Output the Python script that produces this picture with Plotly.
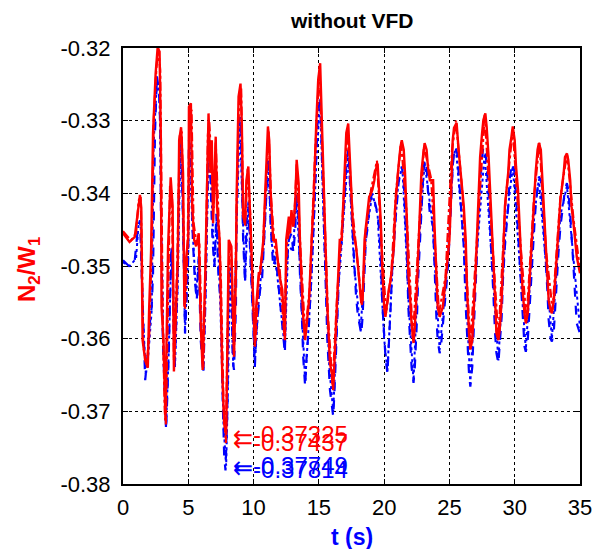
import plotly.graph_objects as go

# ---- data ----
t_red1 = [0, 0.5, 0.9, 1.15, 1.3, 1.4, 1.5, 1.7, 1.9, 2.0, 2.15, 2.3, 2.5, 2.65, 2.8, 2.9, 2.95, 3.1, 3.25, 3.3,
          3.45, 3.65, 3.8, 3.9, 4.1, 4.2, 4.3, 4.45, 4.6, 4.7, 4.85, 5.0, 5.05, 5.2, 5.3, 5.45, 5.6, 5.8, 5.95, 6.1,
          6.3, 6.45, 6.55, 6.7, 6.8, 6.9, 7.1, 7.2, 7.4, 7.6, 7.75, 7.9, 8.0, 8.1, 8.3, 8.4, 8.5, 8.65, 8.7, 8.85,
          9.0, 9.1, 9.2, 9.35, 9.45, 9.6, 9.7, 9.85, 10.0, 10.1, 10.2, 10.4, 10.5, 10.65, 10.75, 10.9, 11.0, 11.1, 11.2, 11.3,
          11.5, 11.7, 11.95, 12.2, 12.4, 12.5, 12.7, 12.8, 12.9, 13.05, 13.2, 13.3, 13.45, 13.55, 13.7, 13.8, 13.95, 14.05, 14.25, 14.45,
          14.6, 14.8, 14.95, 15.1, 15.2, 15.35, 15.5, 15.65, 15.85, 16.0, 16.1, 16.2, 16.35, 16.5, 16.6, 16.75, 16.85, 17.0, 17.1, 17.25,
          17.35, 17.5, 17.6, 17.75, 17.85, 18.0, 18.1, 18.25, 18.35, 18.5, 18.6, 18.75, 18.85, 19.0, 19.1, 19.25, 19.35, 19.5, 19.6, 19.75,
          19.85, 20.0, 20.1, 20.25, 20.35, 20.5, 20.6, 20.75, 20.85, 21.0, 21.1, 21.25, 21.35, 21.5, 21.6, 21.75, 21.85, 22.0, 22.1, 22.25,
          22.35, 22.5, 22.6, 22.75, 22.85, 23.0, 23.1, 23.25, 23.35, 23.5, 23.75, 23.85, 24.0, 24.1, 24.25, 24.35, 24.5, 24.75, 24.85, 25.0,
          25.1, 25.25, 25.35, 25.55, 25.7, 25.85, 26.1, 26.25, 26.35, 26.5, 26.6, 26.75, 26.85, 27.0, 27.1, 27.25, 27.35, 27.5, 27.6, 27.75,
          27.85, 28.0, 28.1, 28.25, 28.35, 28.5, 28.6, 28.75, 28.85, 29.0, 29.1, 29.25, 29.5, 29.6, 29.75, 29.85, 30.0, 30.1, 30.25, 30.35,
          30.5, 30.6, 30.75, 30.85, 31.0, 31.1, 31.25, 31.35, 31.5, 31.6, 31.75, 31.85, 32.0, 32.1, 32.25, 32.35, 32.5, 32.6, 32.75, 32.85,
          33.0, 33.1, 33.25, 33.35, 33.5, 33.75, 33.85, 34.0, 34.1, 34.25, 34.35, 34.5, 34.6, 34.75, 35.0]
v_red1 = [-0.3455, -0.3467, -0.3460, -0.3418, -0.3402, -0.3420, -0.3602, -0.3630, -0.3640, -0.3560, -0.3480, -0.3317, -0.3235, -0.3200, -0.3205, -0.3327, -0.3556, -0.3602, -0.3712, -0.3645,
          -0.3474, -0.3378, -0.3418, -0.3645, -0.3520, -0.3490, -0.3327, -0.3309, -0.3372, -0.3556, -0.3487, -0.3460, -0.3281, -0.3276, -0.3418, -0.3464, -0.3473, -0.3455, -0.3579, -0.3643,
          -0.3510, -0.3350, -0.3290, -0.3372, -0.3327, -0.3441, -0.3322, -0.3418, -0.3464, -0.3648, -0.3717, -0.37325, -0.3565, -0.3464, -0.3473, -0.3579, -0.3625, -0.3510, -0.3405, -0.3267,
          -0.3249, -0.3304, -0.3432, -0.3441, -0.3382, -0.3363, -0.3418, -0.3473, -0.3556, -0.3611, -0.3556, -0.3510, -0.3510, -0.3487, -0.3464, -0.3395, -0.3350, -0.3308, -0.3327, -0.3395,
          -0.3464, -0.3464, -0.3510, -0.3533, -0.3602, -0.3464, -0.3432, -0.3455, -0.3423, -0.3446, -0.3409, -0.3354, -0.3386, -0.3464, -0.3533, -0.3570, -0.3602, -0.3583, -0.3547, -0.3464,
          -0.3409, -0.3304, -0.3244, -0.3221, -0.3281, -0.3395, -0.3487, -0.3556, -0.3634, -0.3648, -0.3671, -0.3625, -0.3556, -0.3510, -0.3464, -0.3464, -0.3418, -0.3350, -0.3317, -0.3304,
          -0.3340, -0.3395, -0.3441, -0.3464, -0.3473, -0.3501, -0.3519, -0.3551, -0.3547, -0.3464, -0.3446, -0.3418, -0.3405, -0.3400, -0.3395, -0.3382, -0.3368, -0.3359, -0.3386, -0.3441,
          -0.3501, -0.3556, -0.3570, -0.3547, -0.3533, -0.3519, -0.3501, -0.3473, -0.3418, -0.3382, -0.3363, -0.3336, -0.3327, -0.3340, -0.3372, -0.3441, -0.3510, -0.3547, -0.3579, -0.3606,
          -0.3583, -0.3533, -0.3487, -0.3418, -0.3372, -0.3345, -0.3331, -0.3340, -0.3363, -0.3382, -0.3382, -0.3441, -0.3510, -0.3556, -0.3570, -0.3565, -0.3556, -0.3510, -0.3487, -0.3464,
          -0.3418, -0.3327, -0.3310, -0.3303, -0.3340, -0.3372, -0.3418, -0.3464, -0.3533, -0.3593, -0.3615, -0.3602, -0.3570, -0.3510, -0.3464, -0.3395, -0.3350, -0.3317, -0.3299, -0.3290,
          -0.3308, -0.3350, -0.3395, -0.3441, -0.3487, -0.3547, -0.3593, -0.3602, -0.3588, -0.3547, -0.3487, -0.3418, -0.3372, -0.3340, -0.3322, -0.3308, -0.3327, -0.3363, -0.3395, -0.3441,
          -0.3487, -0.3533, -0.3565, -0.3579, -0.3565, -0.3533, -0.3487, -0.3441, -0.3409, -0.3372, -0.3340, -0.3331, -0.3340, -0.3372, -0.3418, -0.3464, -0.3510, -0.3547, -0.3561, -0.3565,
          -0.3547, -0.3519, -0.3487, -0.3446, -0.3409, -0.3372, -0.3350, -0.3345, -0.3354, -0.3382, -0.3418, -0.3441, -0.3464, -0.3487, -0.3510]

t_red2 = [0, 0.6, 1.0, 1.2, 1.35, 1.45, 1.55, 1.8, 2.0, 2.2, 2.35, 2.55, 2.7, 2.85, 2.95, 3.05, 3.2, 3.28, 3.4, 3.6,
          3.75, 3.9, 4.15, 4.35, 4.5, 4.65, 4.75, 4.95, 5.1, 5.25, 5.4, 5.6, 5.85, 6.05, 6.15, 6.35, 6.5, 6.6, 6.75, 6.95,
          7.1, 7.3, 7.5, 7.7, 7.88, 8.0, 8.15, 8.3, 8.5, 8.7, 8.9, 9.05, 9.2, 9.35, 9.55, 9.75, 10.05, 10.15, 10.4, 10.7,
          11.0, 11.15, 11.35, 11.6, 12.0, 12.35, 12.55, 12.85, 13.1, 13.3, 13.6, 13.95, 14.3, 14.7, 15.05, 15.3, 15.7, 16.05, 16.4, 16.8,
          17.2, 17.55, 17.9, 18.3, 18.6, 19.0, 19.45, 19.8, 20.15, 20.55, 20.9, 21.3, 21.7, 22.2, 22.65, 23.05, 23.6, 24.2, 24.7, 25.2,
          25.5, 26.0, 26.6, 27.0, 27.7, 28.3, 28.75, 29.3, 29.85, 30.4, 30.9, 31.5, 31.9, 32.4, 32.9, 33.5, 34.0, 34.5, 35.0]
v_red2 = [-0.3452, -0.3465, -0.3455, -0.3410, -0.3405, -0.3480, -0.3610, -0.3635, -0.3600, -0.3470, -0.3300, -0.3230, -0.3200, -0.3230, -0.3400, -0.3580, -0.3700, -0.3718, -0.3600, -0.3390,
          -0.3400, -0.3630, -0.3500, -0.3320, -0.3315, -0.3450, -0.3560, -0.3470, -0.3290, -0.3285, -0.3440, -0.3465, -0.3470, -0.3610, -0.3640, -0.3480, -0.3320, -0.3300, -0.3360, -0.3420,
          -0.3330, -0.3440, -0.3520, -0.3690, -0.37437, -0.3600, -0.3470, -0.3490, -0.3620, -0.3420, -0.3265, -0.3255, -0.3420, -0.3445, -0.3365, -0.3430, -0.3590, -0.3605, -0.3515, -0.3480,
          -0.3360, -0.3315, -0.3410, -0.3470, -0.3505, -0.3595, -0.3470, -0.3440, -0.3440, -0.3360, -0.3480, -0.3595, -0.3530, -0.3350, -0.3225, -0.3370, -0.3570, -0.3665, -0.3540, -0.3440,
          -0.3310, -0.3420, -0.3480, -0.3555, -0.3450, -0.3395, -0.3355, -0.3470, -0.3565, -0.3510, -0.3400, -0.3330, -0.3420, -0.3600, -0.3460, -0.3335, -0.3380, -0.3565, -0.3515, -0.3340,
          -0.3300, -0.3400, -0.3610, -0.3500, -0.3292, -0.3470, -0.3600, -0.3410, -0.3312, -0.3460, -0.3575, -0.3400, -0.3330, -0.3480, -0.3560, -0.3405, -0.3345, -0.3435, -0.3505]

t_blue1 = [0, 0.5, 0.9, 1.15, 1.3, 1.5, 1.7, 1.85, 2.05, 2.2, 2.3, 2.45, 2.6, 2.75, 2.85, 2.9, 3.05, 3.3, 3.4, 3.5,
           3.7, 3.8, 3.95, 4.15, 4.35, 4.45, 4.6, 4.75, 4.85, 5.0, 5.05, 5.2, 5.35, 5.5, 5.65, 5.8, 5.95, 6.15, 6.3, 6.45,
           6.55, 6.7, 6.85, 7.0, 7.15, 7.3, 7.5, 7.65, 7.75, 7.85, 8.0, 8.1, 8.3, 8.4, 8.5, 8.65, 8.7, 8.85, 9.0, 9.1,
           9.2, 9.35, 9.45, 9.6, 9.7, 9.85, 10.0, 10.1, 10.2, 10.4, 10.5, 10.65, 10.75, 10.9, 11.0, 11.1, 11.2, 11.3, 11.5, 11.7,
           11.95, 12.2, 12.4, 12.5, 12.7, 12.9, 13.05, 13.2, 13.3, 13.45, 13.55, 13.7, 13.8, 13.95, 14.05, 14.25, 14.45, 14.6, 14.8, 14.95,
           15.1, 15.2, 15.35, 15.5, 15.65, 15.85, 16.0, 16.1, 16.2, 16.35, 16.5, 16.6, 16.75, 16.85, 17.0, 17.1, 17.25, 17.35, 17.5, 17.6,
           17.75, 17.85, 18.0, 18.1, 18.25, 18.35, 18.5, 18.6, 18.75, 18.85, 19.0, 19.1, 19.25, 19.35, 19.5, 19.6, 19.75, 19.85, 20.0, 20.1,
           20.25, 20.35, 20.5, 20.6, 20.75, 20.85, 21.0, 21.1, 21.25, 21.35, 21.5, 21.6, 21.75, 21.85, 22.0, 22.1, 22.25, 22.35, 22.5, 22.6,
           22.75, 22.85, 23.0, 23.1, 23.25, 23.35, 23.5, 23.75, 23.85, 24.0, 24.1, 24.25, 24.35, 24.5, 24.75, 24.85, 25.0, 25.1, 25.25, 25.35,
           25.45, 25.6, 25.7, 25.85, 26.1, 26.25, 26.35, 26.5, 26.6, 26.75, 26.85, 27.0, 27.1, 27.25, 27.35, 27.5, 27.6, 27.75, 27.85, 28.0,
           28.1, 28.25, 28.35, 28.5, 28.6, 28.75, 28.85, 29.0, 29.1, 29.25, 29.5, 29.6, 29.75, 29.85, 30.0, 30.1, 30.25, 30.35, 30.5, 30.6,
           30.75, 30.85, 31.0, 31.1, 31.25, 31.35, 31.5, 31.6, 31.75, 31.85, 32.0, 32.1, 32.25, 32.35, 32.5, 32.6, 32.75, 32.85, 33.0, 33.1,
           33.25, 33.35, 33.5, 33.75, 33.85, 34.0, 34.1, 34.25, 34.35, 34.5, 34.6, 34.75, 35.0]
v_blue1 = [-0.3492, -0.3501, -0.3492, -0.3446, -0.3437, -0.3556, -0.3657, -0.3629, -0.3579, -0.3556, -0.3510, -0.3317, -0.3239, -0.3258, -0.3304, -0.3418, -0.3602, -0.3726, -0.3671, -0.3625,
           -0.3473, -0.3510, -0.3643, -0.3538, -0.3336, -0.3327, -0.3441, -0.3593, -0.3556, -0.3487, -0.3327, -0.3350, -0.3464, -0.3519, -0.3547, -0.3487, -0.3602, -0.3648, -0.3556, -0.3395,
           -0.3336, -0.3382, -0.3464, -0.3501, -0.3428, -0.3510, -0.3556, -0.3694, -0.3762, -0.37814, -0.3694, -0.3501, -0.3510, -0.3629, -0.3643, -0.3556, -0.3441, -0.3304, -0.3294, -0.3372,
           -0.3464, -0.3524, -0.3441, -0.3418, -0.3464, -0.3519, -0.3602, -0.3639, -0.3593, -0.3547, -0.3533, -0.3519, -0.3487, -0.3441, -0.3395, -0.3350, -0.3372, -0.3441, -0.3501, -0.3487,
           -0.3533, -0.3579, -0.3620, -0.3510, -0.3464, -0.3455, -0.3482, -0.3446, -0.3400, -0.3437, -0.3510, -0.3570, -0.3625, -0.3666, -0.3629, -0.3579, -0.3510, -0.3446, -0.3350, -0.3281,
           -0.3267, -0.3327, -0.3441, -0.3533, -0.3602, -0.3671, -0.3694, -0.3707, -0.3671, -0.3593, -0.3533, -0.3487, -0.3464, -0.3441, -0.3395, -0.3363, -0.3340, -0.3372, -0.3428, -0.3464,
           -0.3510, -0.3542, -0.3570, -0.3579, -0.3593, -0.3570, -0.3510, -0.3464, -0.3446, -0.3418, -0.3405, -0.3400, -0.3409, -0.3418, -0.3428, -0.3446, -0.3487, -0.3547, -0.3602, -0.3625,
           -0.3648, -0.3616, -0.3556, -0.3510, -0.3464, -0.3441, -0.3409, -0.3386, -0.3372, -0.3363, -0.3382, -0.3418, -0.3487, -0.3556, -0.3602, -0.3639, -0.3661, -0.3639, -0.3579, -0.3519,
           -0.3464, -0.3418, -0.3372, -0.3354, -0.3363, -0.3395, -0.3428, -0.3446, -0.3510, -0.3570, -0.3602, -0.3620, -0.3611, -0.3579, -0.3538, -0.3510, -0.3464, -0.3418, -0.3363, -0.3345,
           -0.3336, -0.3345, -0.3372, -0.3418, -0.3473, -0.3556, -0.3602, -0.3648, -0.3666, -0.3639, -0.3593, -0.3533, -0.3487, -0.3441, -0.3382, -0.3350, -0.3336, -0.3340, -0.3363, -0.3395,
           -0.3441, -0.3487, -0.3533, -0.3593, -0.3620, -0.3634, -0.3611, -0.3570, -0.3519, -0.3473, -0.3418, -0.3382, -0.3363, -0.3359, -0.3372, -0.3405, -0.3446, -0.3487, -0.3533, -0.3579,
           -0.3611, -0.3618, -0.3602, -0.3570, -0.3519, -0.3478, -0.3446, -0.3418, -0.3391, -0.3377, -0.3382, -0.3409, -0.3446, -0.3487, -0.3533, -0.3574, -0.3600, -0.3604, -0.3588, -0.3556,
           -0.3519, -0.3482, -0.3446, -0.3409, -0.3395, -0.3386, -0.3395, -0.3428, -0.3464, -0.3501, -0.3533, -0.3579, -0.3593]

t_blue2 = [0, 0.5, 1.0, 1.2, 1.35, 1.5, 1.75, 1.95, 2.2, 2.35, 2.6, 2.8, 2.95, 3.1, 3.3, 3.5, 3.7, 3.85, 3.98, 4.2,
           4.4, 4.55, 4.75, 5.0, 5.1, 5.3, 5.6, 5.8, 6.15, 6.35, 6.55, 6.75, 7.0, 7.2, 7.45, 7.7, 7.9, 8.05, 8.2, 8.45,
           8.7, 8.95, 9.15, 9.35, 9.6, 9.9, 10.1, 10.4, 10.8, 11.1, 11.4, 11.8, 12.4, 12.65, 13.0, 13.3, 13.75, 13.95, 14.4, 14.8,
           15.1, 15.4, 15.8, 16.1, 16.5, 16.9, 17.25, 17.7, 18.2, 18.6, 19.1, 19.5, 20.0, 20.25, 20.7, 21.1, 21.4, 21.9, 22.25, 22.7,
           23.1, 23.7, 24.25, 24.8, 25.3, 25.5, 26.1, 26.6, 27.1, 27.7, 28.3, 28.75, 29.3, 29.85, 30.4, 30.85, 31.5, 31.85, 32.4, 32.85,
           33.5, 34.0, 34.5, 35.0]
v_blue2 = [-0.3495, -0.3500, -0.3490, -0.3440, -0.3440, -0.3560, -0.3650, -0.3620, -0.3560, -0.3330, -0.3245, -0.3265, -0.3450, -0.3620, -0.3720, -0.3620, -0.3480, -0.3530, -0.3640, -0.3520,
           -0.3330, -0.3400, -0.3590, -0.3480, -0.3330, -0.3440, -0.3540, -0.3490, -0.3645, -0.3520, -0.3340, -0.3390, -0.3500, -0.3430, -0.3550, -0.3720, -0.37749, -0.3660, -0.3500, -0.3640,
           -0.3440, -0.3300, -0.3420, -0.3520, -0.3410, -0.3540, -0.3635, -0.3545, -0.3470, -0.3355, -0.3470, -0.3510, -0.3615, -0.3470, -0.3480, -0.3405, -0.3590, -0.3660, -0.3530, -0.3360,
           -0.3270, -0.3460, -0.3640, -0.3700, -0.3530, -0.3430, -0.3345, -0.3500, -0.3590, -0.3460, -0.3400, -0.3430, -0.3600, -0.3645, -0.3480, -0.3380, -0.3365, -0.3560, -0.3658, -0.3460,
           -0.3358, -0.3440, -0.3615, -0.3510, -0.3350, -0.3338, -0.3470, -0.3662, -0.3480, -0.3345, -0.3500, -0.3630, -0.3450, -0.3362, -0.3500, -0.3615, -0.3430, -0.3380, -0.3500, -0.3600,
           -0.3430, -0.3390, -0.3490, -0.3585]

min_labels = ["-0.37325", "-0.37437", "-0.37749", "-0.37814"]
min_values = [-0.37325, -0.37437, -0.37749, -0.37814]
min_times = [7.9, 7.88, 7.9, 7.85]
min_colors = ["#ff0000", "#ff0000", "#0000ff", "#0000ff"]

x_ticks = [0, 5, 10, 15, 20, 25, 30, 35]
y_ticks = [-0.38, -0.37, -0.36, -0.35, -0.34, -0.33, -0.32]

FONT = "Liberation Sans, Arial, Helvetica, sans-serif"

fig = go.Figure()
fig.add_trace(go.Scatter(x=t_blue2, y=v_blue2, mode="lines",
                         line=dict(color="#0000ff", width=2, dash="dot"), showlegend=False))
fig.add_trace(go.Scatter(x=t_blue1, y=v_blue1, mode="lines",
                         line=dict(color="#0000ff", width=2.2, dash="dash"), showlegend=False))
fig.add_trace(go.Scatter(x=t_red2, y=v_red2, mode="lines",
                         line=dict(color="#ff0000", width=2.2, dash="dashdot"), showlegend=False))
fig.add_trace(go.Scatter(x=t_red1, y=v_red1, mode="lines",
                         line=dict(color="#ff0000", width=2.4), showlegend=False))

for lab, val, tt, col in zip(min_labels, min_values, min_times, min_colors):
    fig.add_annotation(x=tt, y=val,
                       text='<span style="font-family:DejaVu Sans">\u2190</span>' + lab,
                       showarrow=False, xanchor="left", yanchor="middle", xshift=5,
                       font=dict(family=FONT, size=24, color=col))

axis_common = dict(showline=True, linecolor="black", linewidth=2, mirror="ticks",
                   ticks="inside", ticklen=5, tickcolor="black", tickwidth=1,
                   showgrid=True, gridcolor="black", griddash="dot", gridwidth=1,
                   zeroline=False, tickfont=dict(family=FONT, size=22, color="black"))

fig.update_xaxes(range=[0, 35], tickvals=x_ticks, ticktext=[str(v) for v in x_ticks],
                 ticklabelstandoff=3, **axis_common)
fig.update_yaxes(range=[-0.38, -0.32], tickvals=y_ticks,
                 ticktext=["%.2f" % v for v in y_ticks], ticklabelstandoff=6, **axis_common)

fig.add_annotation(xref="paper", yref="paper", x=0.5, y=1.0, yshift=28, yanchor="middle",
                   text="<b>without VFD</b>", showarrow=False,
                   font=dict(family=FONT, size=21, color="black"))
fig.add_annotation(xref="paper", yref="paper", x=0.5, y=0, yshift=-53, yanchor="middle",
                   text="<b>t (s)</b>", showarrow=False,
                   font=dict(family=FONT, size=23, color="#0000ff"))
fig.add_annotation(xref="paper", yref="paper", x=0, y=0.5, xshift=-95, yshift=-4,
                   xanchor="center", yanchor="middle",
                   text="<b>N<sub>2</sub>/W<sub>1</sub></b>", showarrow=False, textangle=-90,
                   font=dict(family=FONT, size=24, color="#ff0000"))

fig.update_layout(width=604, height=549, margin=dict(l=123, r=20, t=48, b=65),
                  paper_bgcolor="white", plot_bgcolor="white", showlegend=False)

fig.write_html("out.html")
